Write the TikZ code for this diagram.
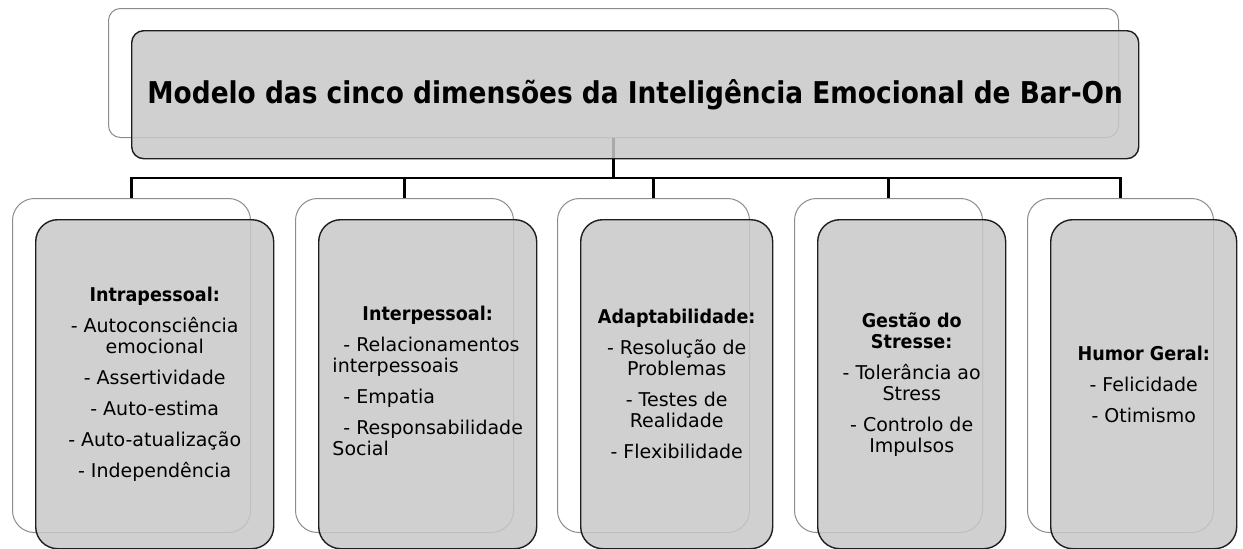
\documentclass[tikz,border=0pt]{standalone}
\usepackage{fontspec}
\setmainfont{DejaVu Sans}[BoldFeatures={FakeStretch=0.925}]
\newfontfamily\titlefont{DejaVu Sans}[FakeStretch=0.88]
\definecolor{frontfill}{HTML}{C8C8C8}
\definecolor{backline}{HTML}{8C8C8C}
\definecolor{frontline}{HTML}{1E1E1E}
\begin{document}
\begin{tikzpicture}[x=1pt,y=-1pt,
  backtop/.style={draw=backline, line width=1pt, fill=white, rounded corners=12pt, inner sep=0pt, anchor=north west, minimum width=1010pt, minimum height=129pt},
  fronttop/.style={draw=frontline, line width=1.4pt, fill=frontfill, fill opacity=0.85, text opacity=1, rounded corners=12pt, inner sep=0pt, anchor=north west, minimum width=1007pt, minimum height=128pt, font=\titlefont\bfseries\fontsize{30}{36}\selectfont},
  backbox/.style={draw=backline, line width=1pt, fill=white, rounded corners=22pt, inner sep=0pt, anchor=north west, minimum height=334pt},
  frontbox/.style={draw=frontline, line width=1.4pt, fill=frontfill, fill opacity=0.85, text opacity=1, rounded corners=22pt, inner sep=0pt, anchor=north west, minimum height=329pt, align=center, font=\fontsize{19}{21}\selectfont},
  conn/.style={draw=black, line width=2.6pt}]
\useasboundingbox (0,0) rectangle (1243,549);
% back boxes
\node[backtop] (t0) at (108,8) {};
\node[backbox, minimum width=238pt] (b1) at (12,198) {};
\node[backbox, minimum width=218pt] (b2) at (295,198) {};
\node[backbox, minimum width=192pt] (b3) at (557,198) {};
\node[backbox, minimum width=188pt] (b4) at (794,198) {};
\node[backbox, minimum width=186pt] (b5) at (1027,198) {};
% connectors
\coordinate (bus) at (0,178);
\draw[conn] (t0.south) -- (t0.south |- bus) -| (b1.north);
\draw[conn] (t0.south |- bus) -| (b2.north);
\draw[conn] (t0.south |- bus) -| (b3.north);
\draw[conn] (t0.south |- bus) -| (b4.north);
\draw[conn] (t0.south |- bus) -| (b5.north);
% front boxes
\node[fronttop] (t1) at (131,30) {Modelo das cinco dimensões da Inteligência Emocional de Bar-On};
\node[frontbox, minimum width=238pt] (f1) at (35,219) {\textbf{Intrapessoal:}\\[10pt]- Autoconsciência\\emocional\\[10pt]- Assertividade\\[10pt]- Auto-estima\\[10pt]- Auto-atualização\\[10pt]- Independência};
\node[frontbox, minimum width=218pt] (f2) at (318,219) {\begin{tabular}{@{}l@{}}\multicolumn{1}{@{}c@{}}{\textbf{Interpessoal:}}\\[10pt]\hspace*{11pt}- Relacionamentos\\interpessoais\\[10pt]\hspace*{11pt}- Empatia\\[10pt]\hspace*{11pt}- Responsabilidade\\Social\end{tabular}};
\node[frontbox, minimum width=192pt] (f3) at (580,219) {\textbf{Adaptabilidade:}\\[10pt]- Resolução de\\Problemas\\[10pt]- Testes de\\Realidade\\[10pt]- Flexibilidade};
\node[frontbox, minimum width=188pt] (f4) at (817,219) {\textbf{Gestão do}\\\textbf{Stresse:}\\[10pt]- Tolerância ao\\Stress\\[10pt]- Controlo de\\Impulsos};
\node[frontbox, minimum width=186pt] (f5) at (1050,219) {\textbf{Humor Geral:}\\[10pt]- Felicidade\\[10pt]- Otimismo};
\end{tikzpicture}
\end{document}
